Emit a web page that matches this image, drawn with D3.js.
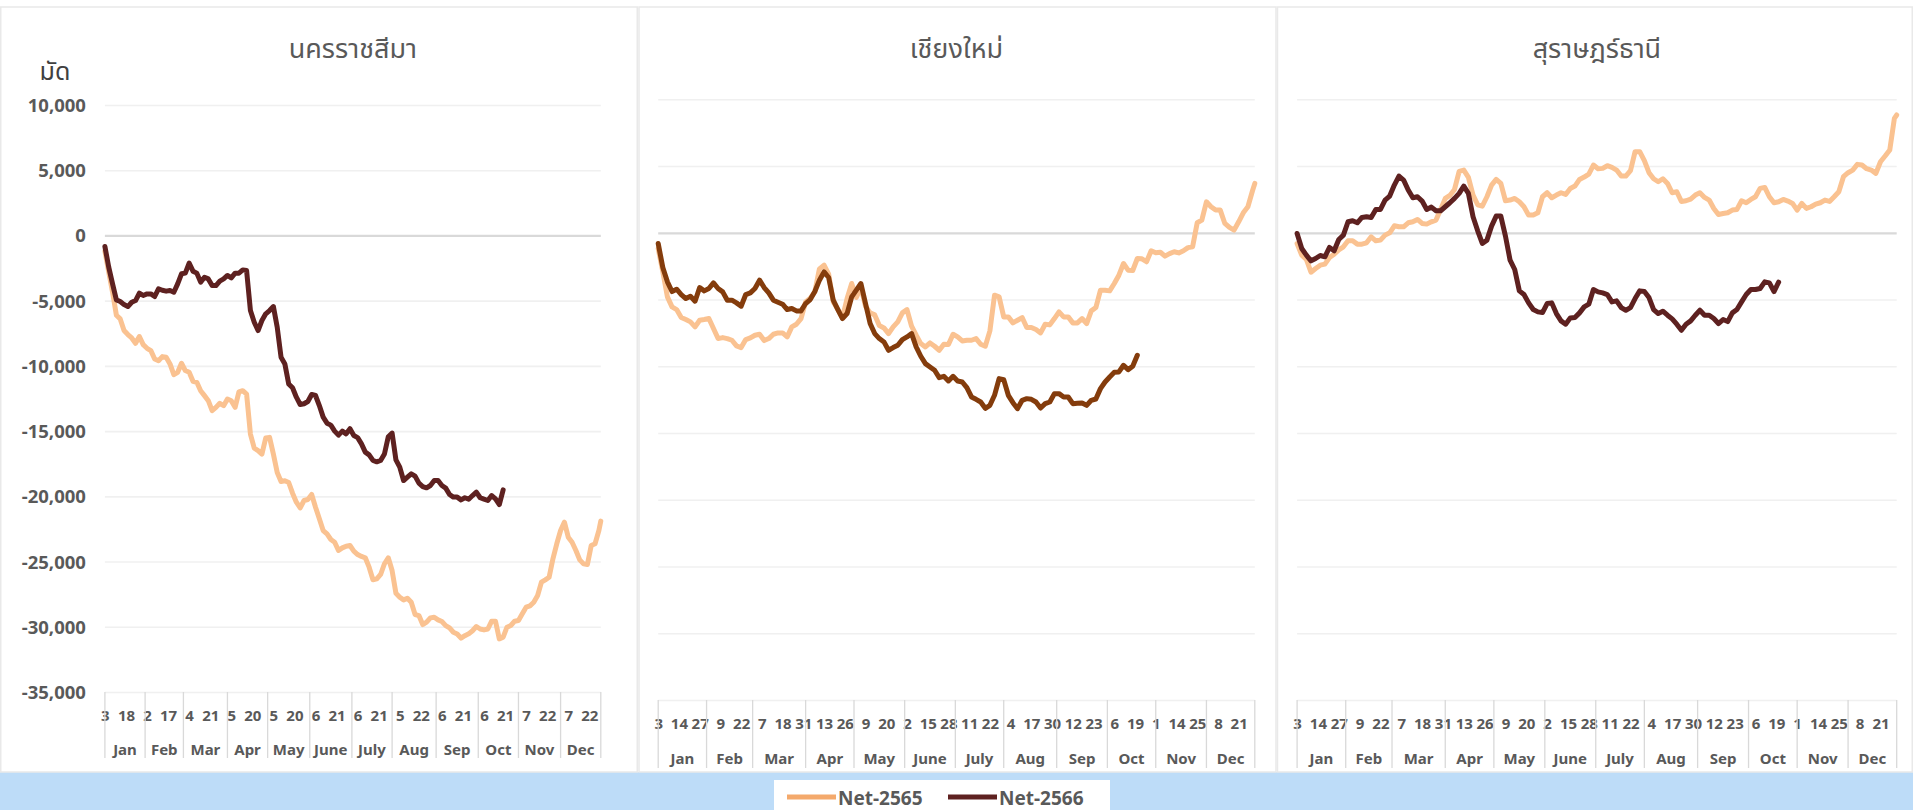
<!DOCTYPE html>
<html>
<head>
<meta charset="utf-8">
<script src="https://cdn.jsdelivr.net/npm/d3@7"></script>
<style>
  html, body { margin: 0; padding: 0; background: #ffffff; }
  svg { display: block; }
  .tick-label { font-family: "Noto Sans", "Open Sans", sans-serif; font-weight: 700; fill: #595959; }
  .thai { font-family: "Noto Sans Thai", "Noto Sans Thai UI", "Leelawadee UI", Tahoma, "Noto Sans", sans-serif; }
</style>
</head>
<body>
<svg id="chart" width="1913" height="810"></svg>
<script>
// ── Data ───────────────────────────────────────────────────────────────────────
var MONTHS = ['Jan', 'Feb', 'Mar', 'Apr', 'May', 'June', 'July', 'Aug', 'Sep', 'Oct', 'Nov', 'Dec'];
var PROVINCES = ['นครราชสีมา', 'เชียงใหม่', 'สุราษฎร์ธานี'];
var SERIES_NAMES = ['Net-2565', 'Net-2566'];
var UNIT_LABEL = 'มัด';
var Y_TICKS = [10000, 5000, 0, -5000, -10000, -15000, -20000, -25000, -30000, -35000];

// one value every 2 working days (weekday index 0, 2, 4 ... last)
var SAMPLE_STEP = 2;

var korat2565 = [
  -1200, -2815, -4350, -6120, -6400, -7290, -7600, -7860, -8270, -7750,
  -8370, -8650, -8830, -9470, -9600, -9290, -9340, -9850, -10670, -10490,
  -9800, -10360, -10490, -11180, -11260, -11900, -12280, -12670, -13430, -13180,
  -12870, -13050, -12540, -12670, -13180, -12000, -11900, -12160, -15230, -16300,
  -16490, -16760, -15530, -15480, -16760, -18170, -18860, -18810, -18940, -19760,
  -20450, -20880, -20320, -20240, -19860, -20830, -21720, -22620, -22880, -23310,
  -23520, -24150, -23950, -23820, -23770, -24200, -24460, -24610, -24710, -25430,
  -26400, -26330, -25990, -25170, -24710, -25690, -27430, -27730, -27940, -27810,
  -28120, -29060, -29140, -29830, -29650, -29320, -29270, -29470, -29600, -29910,
  -30090, -30420, -30550, -30870, -30680, -30540, -30300, -29980, -30170, -30240,
  -30170, -29570, -29580, -30930, -30800, -30030, -29900, -29570, -29520, -29010,
  -28500, -28400, -28120, -27600, -26580, -26400, -26200, -24790, -23640, -22620,
  -21980, -23130, -23520, -24150, -24870, -25180, -25230, -23770, -23640, -22620,
  -21900];
var korat2566 = [
  -845, -2430, -3710, -4940, -5065, -5300, -5450, -5120, -4990, -4430,
  -4600, -4480, -4480, -4680, -4090, -4200, -4270, -4220, -4350, -3710,
  -2940, -2890, -2120, -2740, -2890, -3580, -3200, -3330, -3840, -3840,
  -3500, -3330, -3070, -3250, -2890, -2890, -2640, -2690, -5760, -6650,
  -7290, -6520, -6010, -5760, -5450, -7040, -9340, -9850, -11390, -11680,
  -12400, -12960, -12900, -12730, -12190, -12270, -13040, -13930, -14390, -14540,
  -15000, -15310, -15000, -15210, -14820, -15340, -15500, -15980, -16610, -16820,
  -17250, -17350, -17250, -16750, -15430, -15150, -17200, -17760, -18790, -18530,
  -18270, -18450, -18990, -19250, -19350, -19170, -18790, -18790, -19170, -19370,
  -19860, -20060, -20060, -20270, -20110, -20220, -19940, -19680, -20110, -20220,
  -20320, -19940, -20200, -20630, -19500];

var chiangmai2565 = [
  -1175, -2925, -4800, -5550, -5750, -6350, -6500, -6675, -7050, -6550,
  -6500, -6425, -7175, -7925, -7850, -7925, -8050, -8475, -8600, -8000,
  -7875, -7675, -7600, -8075, -7925, -7600, -7500, -7500, -7800, -7050,
  -6850, -6425, -5175, -4900, -4425, -2700, -2425, -3100, -5175, -5750,
  -6350, -4925, -3800, -4850, -4100, -5500, -6000, -6150, -6950, -7125,
  -7550, -7050, -6675, -6000, -5750, -7000, -7675, -8300, -8550, -8250,
  -8500, -8800, -8350, -8375, -7600, -7800, -8100, -8050, -8050, -7925,
  -8350, -8500, -7350, -4675, -4800, -6300, -6300, -6750, -6550, -6350,
  -7100, -7100, -7250, -7500, -6850, -6900, -6425, -5925, -6300, -6300,
  -6750, -6750, -6425, -6800, -5850, -5600, -4300, -4300, -4350, -3800,
  -3175, -2300, -2800, -2825, -1925, -1950, -2170, -1350, -1500, -1460,
  -1750, -1560, -1420, -1510, -1350, -1110, -1050, 750, 950, 2320,
  1950, 1700, 1700, 700, 400, 200, 825, 1500, 1950, 3150,
  3700];
var chiangmai2566 = [
  -800, -2600, -3675, -4400, -4225, -4625, -4925, -4750, -5125, -4100,
  -4350, -4175, -3750, -4175, -4425, -5050, -5050, -5250, -5500, -4625,
  -4500, -4175, -3550, -4100, -4500, -5050, -5200, -5350, -5750, -5675,
  -5850, -5850, -5300, -5000, -4400, -3550, -2925, -3350, -5050, -5750,
  -6425, -6050, -4800, -4300, -3800, -5300, -6800, -7550, -7925, -8175,
  -8800, -8600, -8425, -8000, -7800, -7550, -8550, -9250, -9800, -10050,
  -10300, -10850, -10750, -11100, -10750, -11100, -11175, -11600, -12300, -12475,
  -12675, -13150, -12925, -12175, -10925, -11000, -12175, -12725, -13175, -12550,
  -12425, -12475, -12675, -13125, -12800, -12675, -12050, -12050, -12300, -12300,
  -12800, -12775, -12750, -12925, -12550, -12450, -11675, -11175, -10800, -10450,
  -10425, -9925, -10250, -10000, -9175];

var surat2565 = [
  -800, -1675, -2000, -2950, -2675, -2425, -2350, -1850, -1600, -1275,
  -1050, -600, -600, -850, -850, -750, -300, -600, -550, -175,
  0, 525, 450, 450, 750, 825, 1000, 700, 650, 825,
  950, 1750, 2575, 2800, 3250, 4600, 4700, 4150, 2825, 2100,
  2000, 2700, 3575, 4000, 3700, 2400, 2450, 2575, 2325, 1950,
  1325, 1325, 1500, 2700, 3000, 2625, 2825, 3000, 2875, 3325,
  3500, 4000, 4175, 4400, 5075, 4800, 4825, 5025, 4900, 4700,
  4250, 4250, 4650, 6075, 6075, 5400, 4500, 4050, 3825, 4050,
  3700, 3000, 3075, 2350, 2400, 2525, 2825, 3000, 2650, 2450,
  1825, 1375, 1450, 1500, 1700, 1750, 2400, 2250, 2500, 2700,
  3325, 3400, 2700, 2250, 2325, 2500, 2375, 2200, 1700, 2200,
  1825, 1950, 2150, 2250, 2450, 2350, 2700, 3075, 4200, 4500,
  4700, 5125, 5075, 4800, 4700, 4450, 5325, 5750, 6200, 8575,
  8825];
var surat2566 = [
  -50, -1175, -1675, -2100, -1925, -1700, -1800, -1100, -1350, -500,
  -175, 825, 900, 750, 1150, 1200, 1150, 1750, 1750, 2450,
  2750, 3575, 4250, 3950, 3200, 2625, 2700, 2375, 1750, 1925,
  1650, 1650, 1950, 2250, 2575, 2950, 3500, 2950, 1200, 150,
  -800, -550, 500, 1250, 1250, -250, -2050, -2750, -4350, -4625,
  -5250, -5750, -5925, -5975, -5300, -5250, -6050, -6600, -6850, -6375,
  -6350, -6000, -5550, -5350, -4250, -4425, -4500, -4625, -5175, -5100,
  -5600, -5800, -5600, -4925, -4350, -4400, -4850, -5750, -6050, -5875,
  -6175, -6450, -6850, -7300, -6850, -6600, -6175, -5800, -6175, -6175,
  -6425, -6800, -6500, -6650, -6000, -5750, -5175, -4625, -4250, -4250,
  -4175, -3675, -3750, -4400, -3700];

// category axis: every weekday of 2022 (Jan 3 .. Dec 30)
var categories = d3.timeDay.range(new Date(2022, 0, 3), new Date(2022, 11, 31))
  .filter(function(d) { return d.getDay() !== 0 && d.getDay() !== 6; });

// ── Layout ─────────────────────────────────────────────────────────────────────
var COLOR_2565 = '#FAC291';
var LEGEND_2565 = '#F4A96C';
var TEXT = '#595959';

var PANELS = [
  { title: PROVINCES[0], a: korat2565, b: korat2566, dark: '#5E2120',
    box: [0.75, 7, 636.5, 765], x0: 104.9, x1: 600.8, yTop: 105, yBot: 692,
    every: 11, dayY: 721, monthY: 755, sepBot: 758, yAxis: true },
  { title: PROVINCES[1], a: chiangmai2565, b: chiangmai2566, dark: '#843C0C',
    box: [639, 7, 637, 765], x0: 658.2, x1: 1254.8, yTop: 99.3, yBot: 700,
    every: 9, dayY: 729, monthY: 764, sepBot: 768, yAxis: false },
  { title: PROVINCES[2], a: surat2565, b: surat2566, dark: '#5E2120',
    box: [1277.5, 7, 634.75, 765], x0: 1297.1, x1: 1896.7, yTop: 99.3, yBot: 700,
    every: 9, dayY: 729, monthY: 764, sepBot: 768, yAxis: false }
];

var svg = d3.select('#chart');

// background band behind the legend
svg.append('rect')
  .attr('x', 0).attr('y', 772)
  .attr('width', 1913).attr('height', 38)
  .attr('fill', '#BDDCF8');

function toPoints(values) {
  var last = categories.length - 1;
  return values.map(function(v, i) {
    return { date: categories[Math.min(i * SAMPLE_STEP, last)], value: v };
  });
}

function fmt(v) {
  return d3.format(',')(v).replace('\u2212', '-');
}

// index of first weekday in each month, plus the last category
var monthStarts = [];
categories.forEach(function(d, i) {
  if (i === 0 || d.getMonth() !== categories[i - 1].getMonth()) monthStarts.push(i);
});
var monthEdges = monthStarts.concat([categories.length - 1]);

PANELS.forEach(drawPanel);

function drawPanel(p) {
  var g = svg.append('g');

  g.append('rect')
    .attr('x', p.box[0]).attr('y', p.box[1])
    .attr('width', p.box[2]).attr('height', p.box[3])
    .attr('fill', '#ffffff')
    .attr('stroke', '#E9E9E9')
    .attr('stroke-width', 1.5);

  var x = d3.scalePoint().domain(categories).range([p.x0, p.x1]);
  var y = d3.scaleLinear().domain([-35000, 10000]).range([p.yBot, p.yTop]);

  // Gridlines
  var grid = g.append('g')
    .attr('transform', 'translate(' + p.x0 + ',0)')
    .call(d3.axisLeft(y).tickValues(Y_TICKS).tickSize(-(p.x1 - p.x0)).tickFormat(''));
  grid.select('.domain').remove();
  grid.selectAll('.tick line')
    .attr('stroke', function(d) { return d === 0 ? '#D9D9D9' : '#F0F0F0'; })
    .attr('stroke-width', function(d) { return d === 0 ? 2.2 : 1.6; });

  // Y tick labels (first panel only)
  if (p.yAxis) {
    var ya = g.append('g')
      .attr('transform', 'translate(' + (p.x0 - 19) + ',0)')
      .call(d3.axisLeft(y).tickValues(Y_TICKS).tickSize(0).tickPadding(0).tickFormat(fmt));
    ya.select('.domain').remove();
    ya.selectAll('text')
      .attr('class', 'tick-label')
      .style('font-size', '18.5px')
      .attr('dy', '0.35em');

    g.append('text')
      .attr('class', 'thai')
      .attr('x', 55).attr('y', 80)
      .attr('text-anchor', 'middle')
      .style('font-size', '25px')
      .attr('fill', '#404040')
      .text(UNIT_LABEL);
  }

  // Title
  g.append('text')
    .attr('class', 'thai')
    .attr('x', (p.x0 + p.x1) / 2).attr('y', 58)
    .attr('text-anchor', 'middle')
    .style('font-size', '27px')
    .attr('fill', TEXT)
    .text(p.title);

  // Day labels
  var dayTicks = categories.filter(function(d, i) { return i % p.every === 0; });
  var xa = g.append('g')
    .attr('transform', 'translate(0,' + p.dayY + ')')
    .call(d3.axisBottom(x).tickValues(dayTicks).tickSize(0).tickPadding(0)
      .tickFormat(function(d) { return d.getDate(); }));
  xa.select('.domain').remove();
  xa.selectAll('text')
    .attr('class', 'tick-label')
    .style('font-size', '15px')
    .attr('y', 0).attr('dy', 0);

  // Month separators and labels
  g.selectAll('line.sep')
    .data(monthEdges)
    .enter().append('line')
    .attr('class', 'sep')
    .attr('x1', function(i) { return x(categories[i]); })
    .attr('x2', function(i) { return x(categories[i]); })
    .attr('y1', p.yBot).attr('y2', p.sepBot)
    .attr('stroke', '#D9D9D9')
    .attr('stroke-width', 1.3);

  g.selectAll('text.month')
    .data(MONTHS)
    .enter().append('text')
    .attr('class', 'month tick-label')
    .attr('x', function(m, k) {
      return (x(categories[monthEdges[k]]) + x(categories[monthEdges[k + 1]])) / 2;
    })
    .attr('y', p.monthY)
    .attr('text-anchor', 'middle')
    .style('font-size', '15px')
    .text(function(m) { return m; });

  // Lines
  var line = d3.line()
    .x(function(d) { return x(d.date); })
    .y(function(d) { return y(d.value); });

  g.append('path')
    .datum(toPoints(p.a))
    .attr('d', line)
    .attr('fill', 'none')
    .attr('stroke', COLOR_2565)
    .attr('stroke-width', 5)
    .attr('stroke-linejoin', 'round')
    .attr('stroke-linecap', 'round');

  g.append('path')
    .datum(toPoints(p.b))
    .attr('d', line)
    .attr('fill', 'none')
    .attr('stroke', p.dark)
    .attr('stroke-width', 5)
    .attr('stroke-linejoin', 'round')
    .attr('stroke-linecap', 'round');
}

// ── Legend ─────────────────────────────────────────────────────────────────────
var legend = svg.append('g');
legend.append('rect')
  .attr('x', 774).attr('y', 780)
  .attr('width', 336).attr('height', 32)
  .attr('fill', '#ffffff');

var legendItems = [
  { name: SERIES_NAMES[0], color: LEGEND_2565, x: 787 },
  { name: SERIES_NAMES[1], color: '#5E2120', x: 948 }
];
legendItems.forEach(function(it) {
  legend.append('line')
    .attr('x1', it.x).attr('x2', it.x + 49)
    .attr('y1', 797).attr('y2', 797)
    .attr('stroke', it.color)
    .attr('stroke-width', 5);
  legend.append('text')
    .attr('class', 'tick-label')
    .attr('x', it.x + 51).attr('y', 805)
    .style('font-size', '19px')
    .text(it.name);
});
</script>
</body>
</html>
